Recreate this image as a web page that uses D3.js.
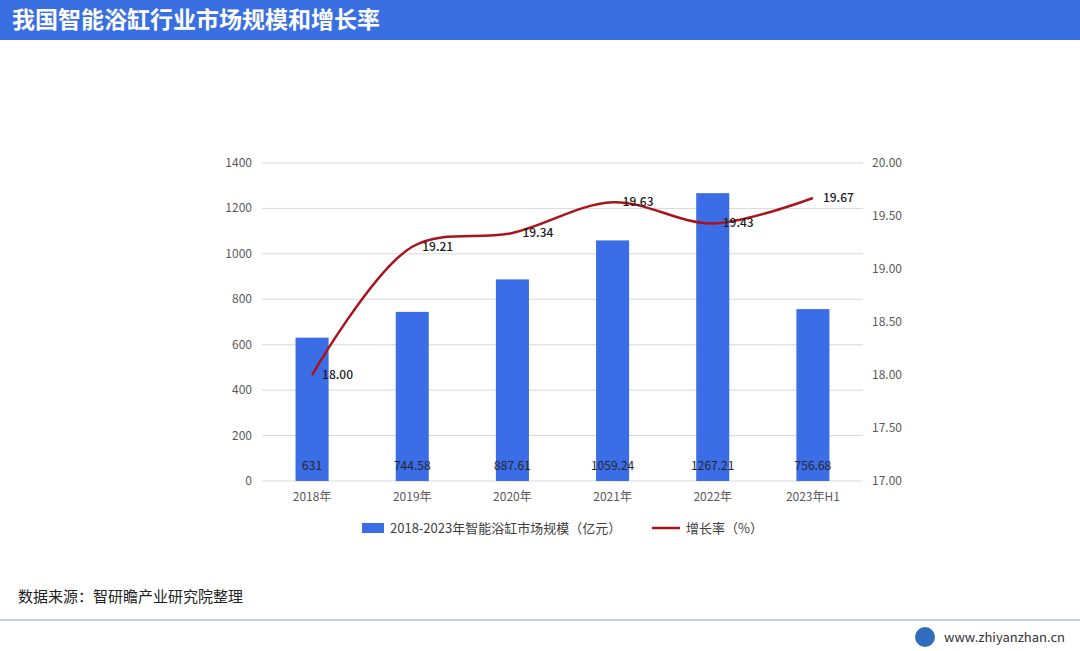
<!DOCTYPE html>
<html><head><meta charset="utf-8">
<script src="https://cdn.jsdelivr.net/npm/d3@7"></script>
<style>body{margin:0;background:#fff}svg{font-family:"Noto Sans CJK SC","Noto Sans",sans-serif}</style>
</head><body><div id="c"></div>
<script>
const categories = ['2018年', '2019年', '2020年', '2021年', '2022年', '2023年H1']
const marketSize = [631, 744.58, 887.61, 1059.24, 1267.21, 756.68]
const marketLabels = ['631', '744.58', '887.61', '1059.24', '1267.21', '756.68']
const growthRate = [18.00, 19.21, 19.34, 19.63, 19.43, 19.67]
const leftTicks = [0, 200, 400, 600, 800, 1000, 1200, 1400]
const rightTicks = [17, 17.5, 18, 18.5, 19, 19.5, 20]

const W = 1080, H = 651
const svg = d3.select('#c').append('svg').attr('width', W).attr('height', H)

svg.append('rect').attr('width', W).attr('height', 40).attr('fill', '#3a6fe2')
svg.append('text').attr('x', 12).attr('y', 28).attr('fill', '#fff')
  .attr('font-size', 23).attr('font-weight', 'bold').text('我国智能浴缸行业市场规模和增长率')

const x = d3.scaleBand().domain(categories).range([262, 863]).paddingInner(0.67).paddingOuter(0.335)
const y = d3.scaleLinear().domain([0, 1400]).range([481, 163])
const y2 = d3.scaleLinear().domain([17, 20]).range([481, 163])

svg.append('g').selectAll('line').data(leftTicks).enter().append('line')
  .attr('x1', 262).attr('x2', 863).attr('y1', d => y(d)).attr('y2', d => y(d))
  .attr('stroke', '#d9d9d9')

svg.append('g').selectAll('text').data(leftTicks).enter().append('text')
  .attr('x', 252).attr('y', d => y(d) + 4).attr('text-anchor', 'end')
  .attr('font-size', 12).attr('fill', '#595959').text(d => d)
svg.append('g').selectAll('text').data(rightTicks).enter().append('text')
  .attr('x', 872).attr('y', d => y2(d) + 4)
  .attr('font-size', 12).attr('fill', '#595959').text(d => d.toFixed(2))
svg.append('g').selectAll('text').data(categories).enter().append('text')
  .attr('x', d => x(d) + x.bandwidth() / 2).attr('y', 501).attr('text-anchor', 'middle')
  .attr('font-size', 12).attr('fill', '#595959').text(d => d)

svg.append('g').selectAll('rect').data(marketSize).enter().append('rect')
  .attr('x', (d, i) => x(categories[i])).attr('width', x.bandwidth())
  .attr('y', d => y(d)).attr('height', d => y(0) - y(d)).attr('fill', '#3b6de6')
svg.append('g').selectAll('text').data(marketLabels).enter().append('text')
  .attr('x', (d, i) => x(categories[i]) + x.bandwidth() / 2).attr('y', 470).attr('text-anchor', 'middle')
  .attr('font-size', 12).attr('fill', '#262626').text(d => d)

const cx = i => x(categories[i]) + x.bandwidth() / 2
const line = d3.line().x((d, i) => cx(i)).y(d => y2(d)).curve(d3.curveCatmullRom.alpha(0.5))
svg.append('path').datum(growthRate).attr('d', line).attr('fill', 'none')
  .attr('stroke', '#a8141b').attr('stroke-width', 2.5)
svg.append('g').selectAll('text').data(growthRate).enter().append('text')
  .attr('x', (d, i) => cx(i) + 10).attr('y', d => y2(d) + 4)
  .attr('font-size', 12).attr('fill', '#1a1a1a').attr('font-weight', 500).text(d => d.toFixed(2))

svg.append('rect').attr('x', 362).attr('y', 523).attr('width', 22).attr('height', 10).attr('fill', '#3b6de6')
svg.append('text').attr('x', 390).attr('y', 533).attr('font-size', 13).attr('fill', '#404040')
  .text('2018-2023年智能浴缸市场规模（亿元）')
svg.append('line').attr('x1', 652).attr('x2', 680).attr('y1', 528).attr('y2', 528)
  .attr('stroke', '#a8141b').attr('stroke-width', 2.5)
svg.append('text').attr('x', 686).attr('y', 533).attr('font-size', 13).attr('fill', '#404040')
  .text('增长率（%）')

svg.append('text').attr('x', 18).attr('y', 602).attr('font-size', 15).attr('fill', '#222')
  .text('数据来源：智研瞻产业研究院整理')
svg.append('line').attr('x1', 0).attr('x2', W).attr('y1', 620).attr('y2', 620)
  .attr('stroke', '#8ea3bd').attr('stroke-width', 1)
svg.append('circle').attr('cx', 925).attr('cy', 637).attr('r', 10).attr('fill', '#2f6dbf')
svg.append('text').attr('x', 944).attr('y', 642).attr('font-size', 13).attr('fill', '#333')
  .text('www.zhiyanzhan.cn')
</script></body></html>
